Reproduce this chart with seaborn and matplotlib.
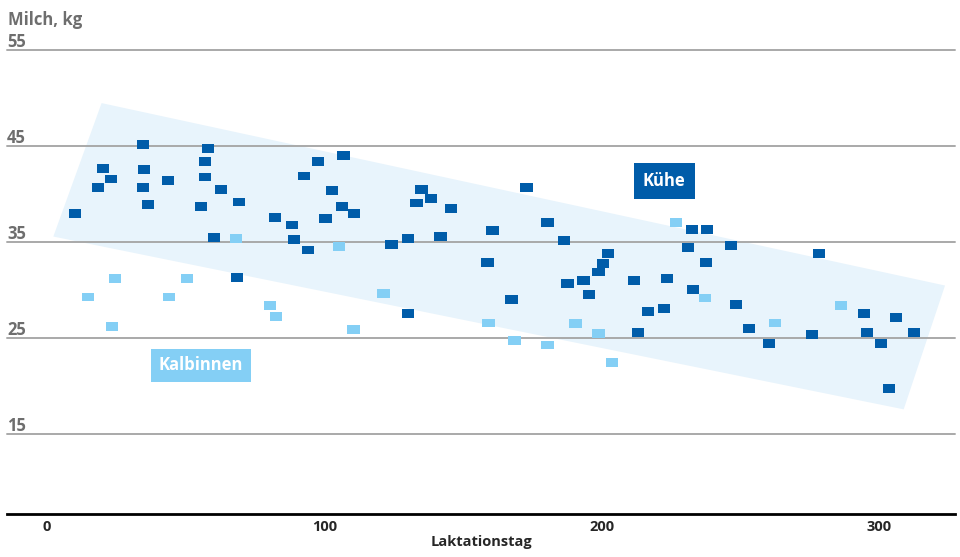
import pandas as pd
import matplotlib.pyplot as plt
import seaborn as sns
from matplotlib.patches import Polygon

# Kühe (dark blue)
kuehe_tag = [10.1, 20.2, 18.4, 23.1, 34.7, 35.0, 34.7, 36.5, 43.7, 58.1, 57.0, 57.0, 62.7, 55.6,
             69.3, 60.3, 68.6, 82.3, 88.4, 89.2, 94.2, 92.7, 97.8, 100.4, 106.9, 102.9, 106.5,
             110.8, 124.2, 130.3, 141.9, 135.0, 133.2, 138.6, 145.8, 172.9, 160.6, 158.8, 180.5,
             186.3, 202.2, 200.4, 198.9, 193.5, 187.7, 195.5, 167.5, 130.3, 232.5, 237.9, 231.0,
             246.6, 278.3, 237.5, 211.6, 223.5, 232.9, 248.4, 216.6, 222.4, 294.6, 306.1, 253.1,
             213.0, 275.8, 295.7, 312.6, 260.3, 300.7, 303.6]
kuehe_milch = [38.0, 42.7, 40.7, 41.6, 45.2, 42.6, 40.7, 38.9, 41.4, 44.8, 43.4, 41.8, 40.5, 38.75,
               39.2, 35.5, 31.35, 37.6, 36.8, 35.3, 34.2, 41.9, 43.4, 37.5, 44.0, 40.4, 38.75,
               38.0, 34.8, 35.4, 35.6, 40.5, 39.1, 39.6, 38.5, 40.7, 36.25, 32.9, 37.1,
               35.2, 33.85, 32.8, 31.9, 31.0, 30.7, 29.6, 29.0, 27.6, 36.35, 36.35, 34.5,
               34.7, 33.85, 32.9, 31.0, 31.25, 30.1, 28.5, 27.8, 28.1, 27.6, 27.2, 26.0,
               25.6, 25.4, 25.6, 25.6, 24.5, 24.5, 19.8]

# Kalbinnen (light blue)
kalb_tag = [68.2, 24.5, 50.5, 14.8, 44.0, 105.4, 121.3, 110.5, 159.2, 168.6, 180.5, 190.6,
            198.9, 203.6, 226.7, 237.2, 286.3, 262.5, 80.5, 82.7, 23.5]
kalb_milch = [35.4, 31.25, 31.25, 29.3, 29.3, 34.6, 29.7, 25.9, 26.6, 24.8, 24.3, 26.5,
              25.5, 22.5, 37.1, 29.2, 28.4, 26.6, 28.4, 27.3, 26.25]

# shaded band around the cows
band_tag = [19.7, 2.3, 308.9, 323.8]
band_milch = [49.5, 35.6, 17.6, 30.5]

y_ticks = [15, 25, 35, 45, 55]
x_ticks = [0, 100, 200, 300]

DARK = '#005ca9'
LIGHT = '#84cff5'
GREY = '#6e6e6e'

df = pd.DataFrame({
    'Laktationstag': kuehe_tag + kalb_tag,
    'Milch': kuehe_milch + kalb_milch,
    'Gruppe': ['Kühe'] * len(kuehe_tag) + ['Kalbinnen'] * len(kalb_tag),
})

sns.set_style('white')
plt.rcParams['font.family'] = ['Open Sans', 'DejaVu Sans']

fig = plt.figure(figsize=(9.6, 5.57), dpi=100)
ax = fig.add_axes([0.0073, 0.0767, 0.9875, 0.833])

ax.add_patch(Polygon(list(zip(band_tag, band_milch)), closed=True,
                     facecolor='#e8f4fc', edgecolor='none', zorder=0))

for y in y_ticks:
    ax.axhline(y, color='#a9a9a9', lw=1.4, zorder=1, clip_on=False)
    ax.text(0.0, y + 0.3, str(y), transform=ax.get_yaxis_transform(),
            ha='left', va='baseline', fontsize=12, fontweight='bold', color=GREY)

rect = [(-1, -0.72), (1, -0.72), (1, 0.72), (-1, 0.72)]
sns.scatterplot(data=df, x='Laktationstag', y='Milch', hue='Gruppe',
                palette={'Kühe': DARK, 'Kalbinnen': LIGHT},
                marker=rect, s=78, linewidth=0, legend=False, ax=ax, zorder=3)

ax.text(222.6, 41.4, 'Kühe', ha='center', va='center', fontsize=12, fontweight='bold',
        color='white', zorder=4,
        bbox=dict(boxstyle='square,pad=0.55', fc=DARK, ec='none'))
ax.text(55.6, 22.2, 'Kalbinnen', ha='center', va='center', fontsize=12, fontweight='bold',
        color='white', zorder=4,
        bbox=dict(boxstyle='square,pad=0.45', fc=LIGHT, ec='none'))

ax.set_xlim(-14.4, 327.4)
ax.set_ylim(6.67, 55)
ax.set_yticks([])
ax.set_xticks(x_ticks)
ax.set_xticklabels([str(t) for t in x_ticks], fontsize=10.5, fontweight='bold')
ax.tick_params(axis='x', length=0, pad=4)
ax.set_xlabel('Laktationstag', fontsize=10.5, fontweight='bold', labelpad=1)
ax.set_ylabel('')

for side in ['top', 'left', 'right']:
    ax.spines[side].set_visible(False)
ax.spines['bottom'].set_color('black')
ax.spines['bottom'].set_linewidth(2)

fig.text(0.0083, 1 - 20 / 557, 'Milch, kg', ha='left', va='center',
         fontsize=12, fontweight='bold', color=GREY)

fig.savefig('out.png', dpi=100)
